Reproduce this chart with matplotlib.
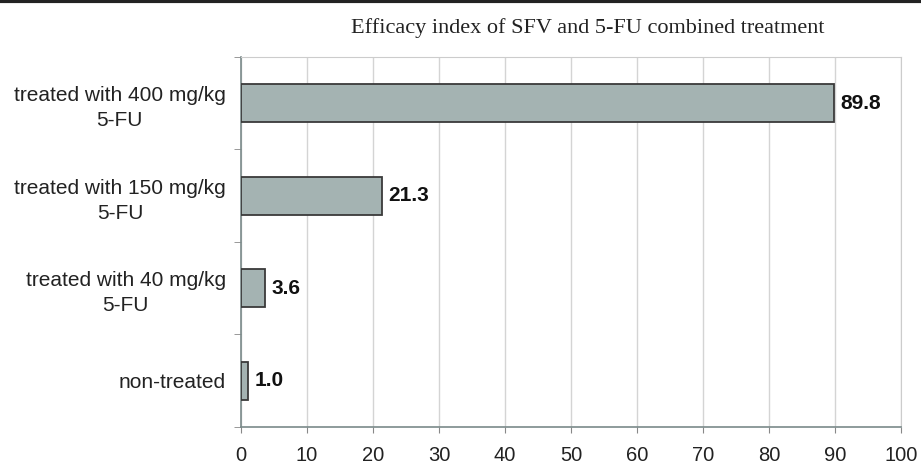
import matplotlib
matplotlib.use("Agg")
import matplotlib.pyplot as plt
import numpy as np

# dane
grupy = ["non-treated", "treated with 40 mg/kg\n5-FU",
         "treated with 150 mg/kg\n5-FU", "treated with 400 mg/kg\n5-FU"]
wartosci = [1.0, 3.6, 21.3, 89.8]
xticks = [0, 10, 20, 30, 40, 50, 60, 70, 80, 90, 100]

fig = plt.figure(figsize=(9.21, 4.67), dpi=100)
ax = fig.add_axes([0.2617, 0.0857, 0.7166, 0.7923])

y = np.arange(len(grupy))
ax.barh(y, wartosci, height=0.41, color="#a4b3b2", edgecolor="#3a3a3a", linewidth=1.3, zorder=3)

for yi, v in zip(y, wartosci):
    ax.text(v + 1.0, yi, f"{v:.1f}", va="center", ha="left",
            fontsize=15, fontweight="bold", family="Liberation Sans", color="#111111")

ax.set_xlim(0, 100)
ax.set_ylim(-0.5, len(grupy) - 0.5)
ax.set_xticks(xticks)
ax.set_xticklabels([str(t) for t in xticks], fontsize=14.5, family="Liberation Sans", color="#222222")
ax.set_yticks(y)
ax.set_yticklabels(grupy, fontsize=15, family="Liberation Sans", color="#222222",
                   linespacing=1.4, multialignment="center")
ax.tick_params(axis="y", length=0, pad=11)
ax.set_yticks(np.arange(-0.5, len(grupy) + 0.5, 1), minor=True)
ax.tick_params(axis="y", which="minor", length=5, color="#888888")
ax.tick_params(axis="x", length=4, color="#888888", pad=10)

ax.grid(axis="x", color="#d4d4d4", linewidth=1, zorder=0)
for s in ["top", "right"]:
    ax.spines[s].set_color("#cccccc")
for s in ["left", "bottom"]:
    ax.spines[s].set_color("#7a8a8a")
    ax.spines[s].set_linewidth(1.2)

fig.text(0.6385, 0.94, "Efficacy index of SFV and 5-FU combined treatment",
         ha="center", va="center", fontsize=16, family="Liberation Serif", color="#222222")

# czarna linia u gory
fig.add_artist(plt.Line2D([0, 1], [0.997, 0.997], color="#222222", linewidth=3, transform=fig.transFigure))

fig.savefig("out.png", dpi=100)
